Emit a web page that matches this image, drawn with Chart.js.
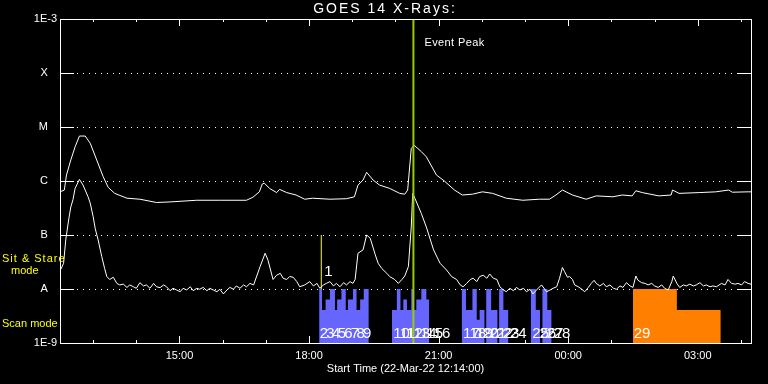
<!DOCTYPE html>
<html>
<head>
<meta charset="utf-8">
<title>GOES 14 X-Rays</title>
<script src="https://cdn.jsdelivr.net/npm/chart.js@4.4.1/dist/chart.umd.min.js"></script>
<style>
  html, body { margin: 0; padding: 0; background: #000; }
  #wrap { width: 768px; height: 384px; }
</style>
</head>
<body>
<div id="wrap"><canvas id="goes" width="768" height="384"></canvas></div>
<script>
/* Tempo em minutos depois de 22-Mar-22 12:14:00, fluxo em W/m2. */
var START_TEXT = "Start Time (22-Mar-22 12:14:00)";
var SPAN_MIN = 960;

var hourTicks = [46, 106, 166, 226, 286, 346, 406, 466, 526, 586, 646, 706, 766, 826, 886, 946];
var hourLabels = ["", "", "15:00", "", "", "18:00", "", "", "21:00", "", "", "00:00", "", "", "03:00", ""];

var decadeTicks = [1e-9, 1e-8, 1e-7, 1e-6, 1e-5, 1e-4, 1e-3];
var decadeLabels = ["1E-9", "A   ", "B   ", "C   ", "M   ", "X   ", "1E-3"];

// canal longo (1-8 A)
var longTime = [0, 1, 6, 9, 15, 21, 27, 35, 42, 51, 60, 67, 76, 93, 111, 134, 153, 190, 222, 259, 268, 277, 281, 284, 291, 301, 305, 315, 328, 340, 351,
  375, 398, 409, 414, 421, 426, 435, 444, 458, 472, 479, 483, 488, 492, 502, 509, 523, 534, 548, 559, 573, 587, 601, 620, 643, 666, 680, 689, 698, 712,
  731, 745, 768, 781, 795, 800, 809, 832, 849, 851, 860, 888, 911, 929, 934, 956, 960];
var longFlux = [6.3e-7, 6.3e-7, 6.8e-7, 1.29e-6, 2.45e-6, 4.3e-6, 6.8e-6, 6.8e-6, 5.0e-6, 2.45e-6, 1.2e-6, 7.6e-7, 5.9e-7, 4.8e-7, 4.6e-7, 4.0e-7, 4.1e-7, 4.4e-7, 4.4e-7, 4.4e-7, 5.0e-7, 6.3e-7, 8.8e-7, 9.1e-7, 7.3e-7, 6.1e-7, 7.0e-7, 6.1e-7, 5.5e-7, 4.6e-7, 4.8e-7,
  4.6e-7, 4.7e-7, 5.1e-7, 8.4e-7, 1.04e-6, 1.45e-6, 1.04e-6, 8.4e-7, 7.3e-7, 5.9e-7, 5.7e-7, 6.8e-7, 4.0e-6, 4.6e-6, 3.5e-6, 2.8e-6, 1.29e-6, 1.0e-6, 6.8e-7, 5.5e-7, 5.7e-7, 6.3e-7, 5.9e-7, 4.8e-7, 4.4e-7, 4.6e-7, 4.6e-7, 5.5e-7, 6.8e-7, 5.5e-7,
  4.6e-7, 5.3e-7, 5.1e-7, 5.5e-7, 5.3e-7, 6.6e-7, 6.1e-7, 5.3e-7, 5.5e-7, 6.8e-7, 5.9e-7, 6.1e-7, 6.3e-7, 6.8e-7, 6.2e-7, 6.3e-7, 6.3e-7];

// canal curto (0.5-4 A)
var shortTime = [1, 5, 8, 12, 15, 18, 21, 27, 32, 39, 42, 46, 49, 53, 58, 62,
  65, 69, 74, 79, 83, 88, 93, 97, 102, 106, 111, 116, 120, 125, 130, 134, 139, 144, 148, 153, 157, 162, 167, 171, 176, 181, 185, 190, 194, 199, 204, 208, 213, 218, 222, 227, 232, 236, 241, 245, 250, 255, 259, 264, 269,
  278, 285, 289, 296, 301, 306, 310, 315, 319, 324, 329, 333, 340, 347, 352, 357, 361, 366, 370, 375, 380, 384, 389, 394, 398, 403, 407, 410,
  414, 421, 426, 431, 438, 442, 447, 454, 458, 465, 470, 475, 479, 484, 488, 490, 493, 502, 509, 519, 528, 537, 544, 551, 556, 560, 565, 570, 574, 579, 583, 588, 593, 597, 602, 607,
  611, 616, 620, 625, 630, 634, 639, 644, 648, 653, 657, 662, 669, 676, 681, 685, 690, 694, 698, 701, 705, 708, 712, 715, 720, 725, 729, 734, 738, 742, 745, 750, 755, 759, 764, 769,
  773, 778, 782, 787, 792, 796, 800, 803, 808, 813, 817, 822, 826, 831, 836, 840, 845, 850, 852, 857, 861, 866, 870, 875, 880, 884, 889, 894, 898, 903, 907, 912, 919, 924, 928, 933, 938, 942, 947, 951, 956, 960];
var shortFlux = [2.3e-8, 3.0e-8, 8.1e-8, 1.9e-7, 3.3e-7, 4.5e-7, 7.3e-7, 1.07e-6, 8.4e-7, 5.1e-7, 3.9e-7, 2.2e-7, 1.3e-7, 8.1e-8, 4.0e-8, 2.4e-8,
  1.7e-8, 1.5e-8, 1.65e-8, 1.27e-8, 1.19e-8, 1.23e-8, 1.07e-8, 1.19e-8, 1.1e-8, 1.03e-8, 1.31e-8, 1.14e-8, 1.19e-8, 1.03e-8, 1.27e-8, 1.1e-8, 1.06e-8, 1.19e-8, 1.1e-8, 9.3e-9, 1.03e-8, 9.6e-9, 8.9e-9, 1.03e-8, 9.6e-9, 1.1e-8, 9.3e-9, 1.03e-8, 9.9e-9, 1.07e-8, 9.3e-9, 1.03e-8, 9.6e-9, 8.9e-9, 9.9e-9, 8.1e-9, 9.6e-9, 1.07e-8, 9.9e-9, 1.14e-8, 1.03e-8, 1.19e-8, 1.1e-8, 1.27e-8, 1.19e-8,
  2.6e-8, 4.6e-8, 3.4e-8, 1.5e-8, 1.8e-8, 1.95e-8, 1.58e-8, 1.5e-8, 1.7e-8, 1.65e-8, 1.37e-8, 1.1e-8, 1.19e-8, 1.37e-8, 1.14e-8, 1.27e-8, 1.03e-8, 1.19e-8, 1.27e-8, 1.37e-8, 1.14e-8, 1.27e-8, 1.1e-8, 1.31e-8, 1.19e-8, 1.37e-8, 1.27e-8, 1.5e-8,
  4.6e-8, 5.3e-8, 1.0e-7, 8.7e-8, 4.3e-8, 3.0e-8, 2.4e-8, 1.95e-8, 1.7e-8, 1.5e-8, 1.27e-8, 1.5e-8, 1.74e-8, 2.6e-8, 1.4e-7, 5.9e-7, 4.8e-7, 2.5e-7, 1.4e-7, 5.3e-8, 3.0e-8, 2.25e-8, 1.7e-8, 1.5e-8, 1.19e-8, 1.1e-8, 1.27e-8, 1.5e-8, 1.58e-8, 1.37e-8, 1.7e-8, 1.8e-8, 1.58e-8, 1.9e-8, 1.58e-8, 1.5e-8,
  1.1e-8, 9.6e-9, 8.9e-9, 1.03e-8, 9.3e-9, 1.07e-8, 9.6e-9, 1.03e-8, 8.9e-9, 9.9e-9, 8.1e-9, 9.6e-9, 1.19e-8, 8.9e-9, 9.6e-9, 1.03e-8, 1.1e-8, 1.58e-8, 2.5e-8, 2.1e-8, 1.65e-8, 1.7e-8, 1.5e-8, 1.19e-8, 1.1e-8, 9.9e-9, 8.9e-9, 1.07e-8, 1.27e-8, 1.45e-8, 1.27e-8, 1.14e-8, 1.27e-8, 1.1e-8, 1.19e-8, 1.03e-8,
  9.9e-9, 1.14e-8, 1.07e-8, 1.31e-8, 1.14e-8, 1.07e-8, 1.74e-8, 1.45e-8, 1.31e-8, 1.27e-8, 1.19e-8, 1.27e-8, 1.14e-8, 1.07e-8, 1.19e-8, 1.03e-8, 9.6e-9, 1.37e-8, 1.74e-8, 1.27e-8, 1.07e-8, 1.19e-8, 1.14e-8, 1.23e-8, 1.14e-8, 1.19e-8, 1.31e-8, 1.14e-8, 1.19e-8, 1.1e-8, 1.14e-8, 1.1e-8, 1.27e-8, 1.19e-8, 1.5e-8, 1.27e-8, 1.23e-8, 1.27e-8, 1.19e-8, 1.37e-8, 1.27e-8, 1.23e-8];

// modo scan: inicio, fim (min) e altura da barra
var scanStart = [360, 364, 369, 375, 382, 385, 391, 397, 400, 407, 412, 417, 422,
  461, 468, 473, 477, 482, 488, 491, 495, 502, 509,
  558, 564, 573, 579, 583, 592, 599, 610, 616,
  654, 661, 670, 677];
var scanEnd = [364, 369, 375, 382, 385, 391, 397, 400, 407, 412, 417, 422, 429,
  468, 473, 477, 482, 488, 491, 495, 502, 509, 513,
  564, 573, 579, 583, 590, 599, 608, 616, 623,
  661, 667, 677, 683];
var scanTop = [1e-8, 4.1e-9, 6.4e-9, 1e-8, 4.1e-9, 6.4e-9, 1e-8, 4.1e-9, 6.4e-9, 1e-8, 4.1e-9, 6.4e-9, 1e-8,
  4.1e-9, 1e-8, 4.1e-9, 6.4e-9, 4.1e-9, 1e-8, 4.1e-9, 6.4e-9, 1e-8, 6.4e-9,
  1e-8, 4.1e-9, 1e-8, 2.7e-9, 4.1e-9, 1e-8, 4.1e-9, 1e-8, 4.1e-9,
  1e-8, 4.1e-9, 1e-8, 4.1e-9];
var scanNumbers = ["2", "3", "4", "5", "6", "7", "8", "9", "10", "11", "12", "13", "14", "15", "16",
  "17", "18", "19", "20", "21", "22", "23", "24", "25", "26", "27", "28", "29"];
var scanNumberTime = [361, 370, 378, 386, 395, 404, 412, 421, 463, 472, 481, 491, 500, 509, 519,
  560, 569, 578, 587, 597, 606, 615, 625, 656, 666, 676, 686, 797];

// sit & stare
var stareStart = [796, 857];
var stareEnd = [857, 918];
var stareTop = [1e-8, 4.1e-9];

var firstObsTime = 363;
var firstObsRange = [1e-8, 1e-7];
var eventPeakTime = 491;

(function () {
  "use strict";

  var FONT = "'Liberation Sans', Arial, sans-serif";
  var WHITE = "#ffffff";

  function steps(starts, ends, tops) {
    var points = [];
    for (var i = 0; i < starts.length; i += 1) {
      if (i > 0 && starts[i] !== ends[i - 1]) {
        points.push({ x: ends[i - 1], y: tops[i - 1] });
        points.push({ x: (ends[i - 1] + starts[i]) / 2, y: null });
      }
      points.push({ x: starts[i], y: tops[i] });
    }
    var last = starts.length - 1;
    points.push({ x: ends[last], y: tops[last] });
    return points;
  }
  function pairs(xs, ys) {
    return xs.map(function (x, i) { return { x: x, y: ys[i] }; });
  }

  function hline(ctx, x0, x1, y) {
    ctx.beginPath(); ctx.moveTo(x0, y); ctx.lineTo(x1, y); ctx.stroke();
  }
  function vline(ctx, x, y0, y1) {
    ctx.beginPath(); ctx.moveTo(x, y0); ctx.lineTo(x, y1); ctx.stroke();
  }
  function spaced(ctx, px) {
    if ("letterSpacing" in ctx) ctx.letterSpacing = px + "px";
  }

  var frame = {
    id: "goesFrame",
    beforeDatasetsDraw: function (chart) {
      var ctx = chart.ctx, a = chart.chartArea, xs = chart.scales.x, ys = chart.scales.y;
      ctx.save();
      ctx.strokeStyle = WHITE;
      ctx.lineWidth = 1;
      decadeTicks.forEach(function (v, i) {
        if (i === 0 || i === decadeTicks.length - 1) return;
        var py = Math.round(ys.getPixelForValue(v)) + 0.5;
        ctx.setLineDash([]);
        hline(ctx, a.left, a.left + 14, py);
        hline(ctx, a.right - 14, a.right, py);
        ctx.setLineDash([1, 5]);
        hline(ctx, a.left + 17, a.right - 16, py);
      });
      ctx.setLineDash([]);
      hourTicks.forEach(function (v, i) {
        var px = Math.round(xs.getPixelForValue(v)) + 0.5;
        var len = hourLabels[i] ? 7 : 3;
        vline(ctx, px, a.top, a.top + len);
        vline(ctx, px, a.bottom, a.bottom - len);
      });
      ctx.restore();
    },
    afterDatasetsDraw: function (chart) {
      var ctx = chart.ctx, a = chart.chartArea, xs = chart.scales.x, ys = chart.scales.y;
      ctx.save();
      ctx.strokeStyle = WHITE;
      ctx.lineWidth = 1;
      ctx.strokeRect(Math.round(a.left) + 0.5, Math.round(a.top) + 0.5, Math.round(a.right - a.left), Math.round(a.bottom - a.top));

      ctx.fillStyle = WHITE;
      ctx.textBaseline = "middle";
      ctx.textAlign = "center";
      ctx.font = "14px " + FONT;
      spaced(ctx, 2);
      ctx.fillText("GOES 14 X-Rays:", chart.width / 2 + 1, 9);
      spaced(ctx, 0);

      ctx.textAlign = "left";
      ctx.font = "11px " + FONT;
      spaced(ctx, 0.4);
      ctx.fillText("Event Peak", xs.getPixelForValue(eventPeakTime) + 11, 43);
      spaced(ctx, 0);

      ctx.font = "15px " + FONT;
      ctx.textBaseline = "alphabetic";
      scanNumbers.forEach(function (label, i) {
        ctx.fillText(label, xs.getPixelForValue(scanNumberTime[i]), a.bottom - 5);
      });
      ctx.fillText("1", xs.getPixelForValue(firstObsTime) + 3, ys.getPixelForValue(firstObsRange[0]) - 13);

      ctx.fillStyle = "#ffff00";
      ctx.font = "11px " + FONT;
      ctx.textBaseline = "middle";
      spaced(ctx, 1);
      ctx.fillText("Sit & Stare", 2, 259);
      spaced(ctx, 0);
      ctx.fillText("mode", 11, 271);
      ctx.fillText("Scan mode", 2, 324);
      ctx.restore();
    }
  };

  new Chart(document.getElementById("goes"), {
    type: "line",
    data: {
      datasets: [
        { label: "Event Peak", data: [{ x: eventPeakTime, y: decadeTicks[0] }, { x: eventPeakTime, y: decadeTicks[6] }], borderColor: "#99cc00", borderWidth: 2 },
        { label: "1-8 A", data: pairs(longTime, longFlux), borderColor: WHITE, borderWidth: 1 },
        { label: "0.5-4 A", data: pairs(shortTime, shortFlux), borderColor: WHITE, borderWidth: 1 },
        { label: "Obs 1", data: [{ x: firstObsTime, y: firstObsRange[0] }, { x: firstObsTime, y: firstObsRange[1] }], borderColor: "#ffff00", borderWidth: 1 },
        { label: "Scan", data: steps(scanStart, scanEnd, scanTop), stepped: "before", fill: "start", borderWidth: 0, borderColor: "rgba(0,0,0,0)", backgroundColor: "#6666ff" },
        { label: "Sit & Stare", data: steps(stareStart, stareEnd, stareTop), stepped: "before", fill: "start", borderWidth: 0, borderColor: "rgba(0,0,0,0)", backgroundColor: "#ff8000" }
      ]
    },
    options: {
      responsive: false,
      animation: false,
      devicePixelRatio: 1,
      spanGaps: false,
      layout: { padding: { top: 19, right: 17, left: 0, bottom: 0 } },
      elements: { point: { radius: 0, hoverRadius: 0 }, line: { tension: 0 } },
      plugins: { legend: { display: false }, tooltip: { enabled: false }, title: { display: false } },
      events: [],
      scales: {
        x: {
          type: "linear", min: 0, max: SPAN_MIN,
          grid: { display: false, drawTicks: false }, border: { display: false },
          afterFit: function (scale) { scale.height = 41; },
          afterBuildTicks: function (scale) { scale.ticks = hourTicks.map(function (v) { return { value: v }; }); },
          ticks: {
            color: WHITE, autoSkip: false, maxRotation: 0, padding: 6, font: { family: FONT, size: 11 },
            callback: function (value, index) { return hourLabels[index]; }
          },
          title: { display: true, text: START_TEXT, color: WHITE, font: { family: FONT, size: 11 }, padding: { top: 0, bottom: 8 } }
        },
        y: {
          type: "logarithmic", min: decadeTicks[0], max: decadeTicks[6],
          grid: { display: false, drawTicks: false }, border: { display: false },
          afterFit: function (scale) { scale.width = 60; },
          afterBuildTicks: function (scale) { scale.ticks = decadeTicks.map(function (v) { return { value: v }; }); },
          ticks: {
            color: WHITE, autoSkip: false, padding: 3, font: { family: FONT, size: 11 },
            callback: function (value, index) { return decadeLabels[index]; }
          }
        }
      }
    },
    plugins: [frame]
  });
})();
</script>
</body>
</html>
